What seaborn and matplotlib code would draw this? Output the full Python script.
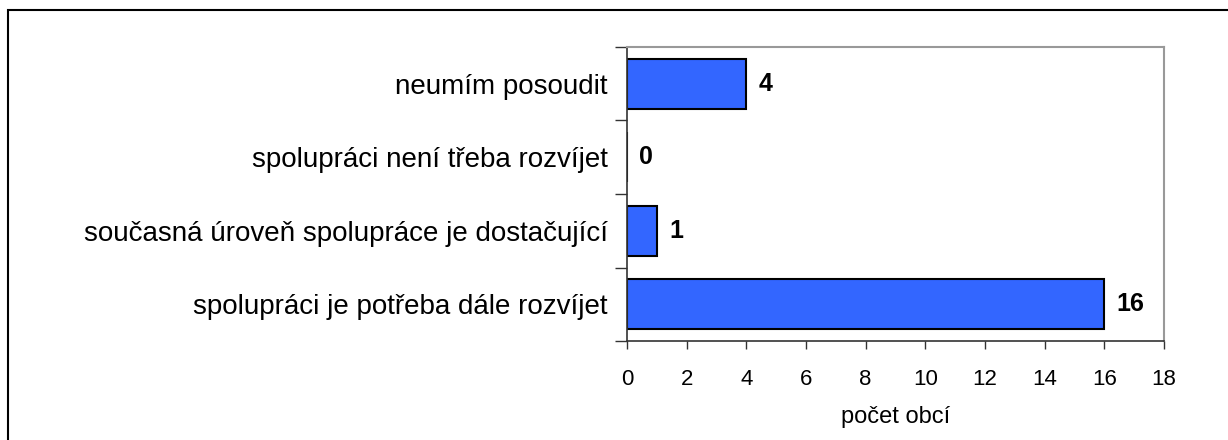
import numpy as np
import pandas as pd
import matplotlib
matplotlib.use("Agg")
import matplotlib.pyplot as plt
import seaborn as sns
from matplotlib.patches import Rectangle

categories = ["neumím posoudit",
              "spolupráci není třeba rozvíjet",
              "současná úroveň spolupráce je dostačující",
              "spolupráci je potřeba dále rozvíjet"]
values = [4, 0, 1, 16]
x_ticks = [0, 2, 4, 6, 8, 10, 12, 14, 16, 18]

sns.set_style("white")
plt.rcParams['font.family'] = ['Liberation Sans', 'DejaVu Sans']
plt.rcParams['text.color'] = 'black'
plt.rcParams['xtick.labelcolor'] = 'black'
plt.rcParams['ytick.labelcolor'] = 'black'
plt.rcParams['axes.labelcolor'] = 'black'

df = pd.DataFrame({'kategorie': categories, 'pocet': values})

fig = plt.figure(figsize=(12.28, 4.40), dpi=100, facecolor='white')
ax = fig.add_axes([627/1228, 1 - 341/440, (1164-627)/1228, (341-47)/440])

sns.barplot(data=df, x='pocet', y='kategorie', order=categories, color='#3366FF',
            saturation=1, width=0.68, edgecolor='black', linewidth=1.5, ax=ax)

ax.set_xlim(0, 18)
ax.set_ylim(3.5, -0.5)
ax.set_xticks(x_ticks)
ax.set_xticklabels([str(t) for t in x_ticks], fontsize=16)
ax.set_yticks(range(len(categories)))
ax.set_yticklabels(categories, fontsize=20)
ax.set_yticks(np.arange(-0.5, len(categories), 1.0), minor=True)
ax.tick_params(axis='y', which='major', length=0, pad=14)
ax.tick_params(axis='y', which='minor', length=9, width=1, color='#333333', direction='out', left=True)
ax.tick_params(axis='x', which='major', length=6, width=1, color='#333333', direction='out', bottom=True, pad=14)
ax.set_xlabel("počet obcí", fontsize=17, labelpad=12)
ax.set_ylabel("")

for side in ['left', 'bottom']:
    ax.spines[side].set_color('#333333')
    ax.spines[side].set_linewidth(1.2)
for side in ['top', 'right']:
    ax.spines[side].set_color('#999999')
    ax.spines[side].set_linewidth(1.5)
    ax.spines[side].set_visible(True)

for i, v in enumerate(values):
    ax.annotate(str(v), xy=(v, i), xytext=(9, 0), textcoords='offset points',
                ha='left', va='center', fontsize=18, fontweight='bold', color='black')

fig.patches.append(Rectangle((8/1228, -0.1), 1.2, 1 - 10/440 + 0.1, transform=fig.transFigure,
                             fill=False, edgecolor='black', linewidth=1.5))

fig.savefig('out.png', dpi=100)
